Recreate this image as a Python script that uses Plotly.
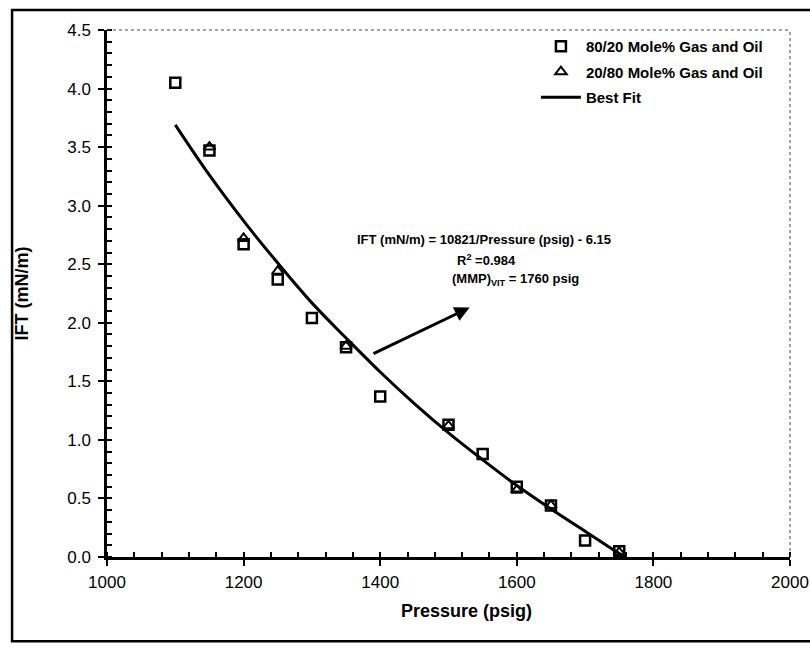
import plotly.graph_objects as go

# ---- data ----
p_8020 = [1100, 1150, 1200, 1250, 1300, 1350, 1400, 1500, 1550, 1600, 1650, 1700, 1750]
ift_8020 = [4.05, 3.47, 2.67, 2.37, 2.04, 1.79, 1.37, 1.13, 0.88, 0.60, 0.44, 0.14, 0.05]

p_2080 = [1150, 1200, 1250, 1350, 1500, 1600, 1650, 1750]
ift_2080 = [3.50, 2.72, 2.44, 1.80, 1.12, 0.57, 0.44, 0.04]

p_fit = [1100, 1150, 1200, 1250, 1300, 1350, 1400, 1450, 1500, 1550, 1600, 1650, 1700, 1750, 1760]
ift_fit = [3.69, 3.26, 2.87, 2.51, 2.17, 1.87, 1.58, 1.31, 1.06, 0.83, 0.61, 0.41, 0.22, 0.03, 0.00]

x_ticks = [1000, 1200, 1400, 1600, 1800, 2000]
y_ticks = [0.0, 0.5, 1.0, 1.5, 2.0, 2.5, 3.0, 3.5, 4.0, 4.5]

FONT = "Liberation Sans, Arial, sans-serif"

fig = go.Figure()
fig.add_trace(go.Scatter(
    x=p_2080, y=ift_2080, mode="markers", name="20/80 Mole% Gas and Oil",
    marker=dict(symbol="triangle-up-open", size=10, color="black", line=dict(width=2, color="black")),
    legendrank=2, legendgroup="b",
))
fig.add_trace(go.Scatter(
    x=p_8020, y=ift_8020, mode="markers", name="80/20 Mole% Gas and Oil",
    marker=dict(symbol="square-open", size=10, color="black", line=dict(width=2.5, color="black")),
    legendrank=1, legendgroup="a",
))
fig.add_trace(go.Scatter(
    x=p_fit, y=ift_fit, mode="lines", name="Best Fit",
    line=dict(color="black", width=3, shape="spline"),
    legendrank=3, legendgroup="c",
))

# arrow from the curve to the equation
fig.add_annotation(x=1531, y=2.13, ax=1388, ay=1.73, axref="x", ayref="y",
                   xref="x", yref="y", text="", showarrow=True,
                   arrowhead=2, arrowsize=1, arrowwidth=3, arrowcolor="black")

bold = dict(family=FONT, size=13, color="black", weight="bold")
fig.add_annotation(x=1552, y=2.71, xref="x", yref="y", showarrow=False,
                   text="IFT (mN/m) = 10821/Pressure (psig) - 6.15", font=bold)
fig.add_annotation(x=1555, y=2.54, xref="x", yref="y", showarrow=False,
                   text="R<sup>2</sup> =0.984", font=bold)
fig.add_annotation(x=1598, y=2.37, xref="x", yref="y", showarrow=False,
                   text="(MMP)<sub>VIT</sub> = 1760 psig", font=bold)

# x-axis title
fig.add_annotation(x=0.527, y=-0.1025, xref="paper", yref="paper", showarrow=False,
                   xanchor="center", yanchor="middle",
                   text="Pressure (psig)",
                   font=dict(family=FONT, size=18, color="black", weight="bold"))

# dotted top & right plot border
fig.add_shape(type="line", xref="paper", yref="paper", x0=0, x1=1, y0=1, y1=1,
              line=dict(color="#444", width=1, dash="dot"))
fig.add_shape(type="line", xref="paper", yref="paper", x0=1, x1=1, y0=0, y1=1,
              line=dict(color="#444", width=1, dash="dot"))
# outer frame (right side runs off the picture)
fig.add_shape(type="rect", xref="paper", yref="paper", x0=-0.139, x1=1.1, y0=-0.16, y1=1.038,
              line=dict(color="black", width=2.5))

fig.update_xaxes(
    range=[1000, 2000], tickvals=x_ticks, showgrid=False, zeroline=False,
    showline=True, linecolor="black", linewidth=2.5, automargin=False,
    ticks="outside", ticklen=6, tickwidth=2, tickcolor="black",
    minor=dict(ticks="inside", ticklen=5, tickwidth=1.5, tickcolor="black", dtick=40),
    tickfont=dict(family=FONT, size=17, color="black"), ticklabelstandoff=2,
    ticklabeloverflow="allow",
)
fig.update_yaxes(
    range=[0, 4.5], tickvals=y_ticks, tickformat=".1f", showgrid=False, zeroline=False,
    showline=True, linecolor="black", linewidth=2.5, automargin=False,
    ticks="outside", ticklen=6, tickwidth=2, tickcolor="black",
    minor=dict(ticks="inside", ticklen=5, tickwidth=1.5, tickcolor="black", dtick=0.1),
    tickfont=dict(family=FONT, size=17, color="black"), ticklabelstandoff=4,
    title=dict(text="IFT (mN/m)", font=dict(family=FONT, size=18, color="black", weight="bold"), standoff=34),
)

fig.update_layout(
    width=810, height=648,
    margin=dict(l=107, r=20, t=30, b=91),
    paper_bgcolor="white", plot_bgcolor="white",
    showlegend=True,
    legend=dict(x=0.628, y=1.0, xanchor="left", yanchor="top",
                font=dict(family=FONT, size=15, color="black", weight="bold"),
                bgcolor="rgba(0,0,0,0)", itemwidth=40, tracegroupgap=3),
)

fig.write_html("out.html")
